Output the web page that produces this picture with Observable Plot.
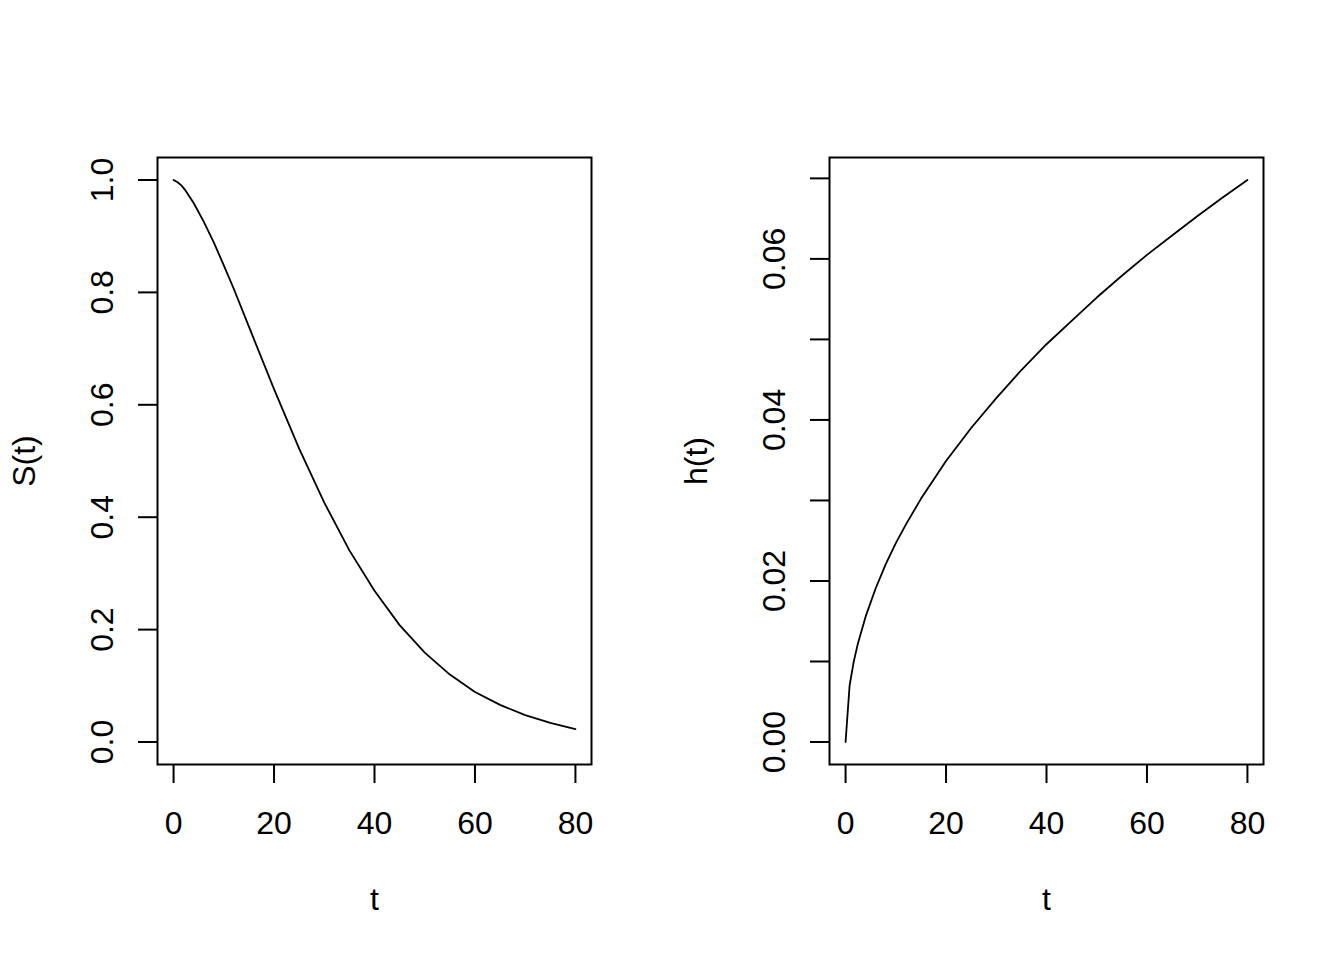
<!DOCTYPE html>
<html>
<head>
<meta charset="utf-8">
<script src="https://cdn.jsdelivr.net/npm/d3@7"></script>
<script src="https://cdn.jsdelivr.net/npm/@observablehq/plot@0.6"></script>
<style>
  html, body { margin: 0; padding: 0; background: #fff; }
  #wrap { display: flex; width: 1344px; height: 960px; }
  svg { font-family: "Liberation Sans", Arial, sans-serif; }
</style>
</head>
<body>
<div id="wrap"></div>
<script>
// time points
const tValues = [0, 0.8, 1.6, 2.4, 4, 6, 8, 10, 12, 15, 20, 25, 30, 35, 40, 45, 50, 55, 60, 65, 70, 75, 80];
// survival S(t)
const sValues = [1.000, 0.996, 0.990, 0.981, 0.959, 0.926, 0.889, 0.848, 0.806, 0.739, 0.628, 0.522, 0.426, 0.341, 0.269, 0.208, 0.159, 0.120, 0.089, 0.066, 0.048, 0.034, 0.023];
// hazard h(t)
const hValues = [0.0000, 0.0070, 0.0099, 0.0121, 0.0156, 0.0191, 0.0221, 0.0247, 0.0270, 0.0302, 0.0349, 0.0390, 0.0427, 0.0462, 0.0494, 0.0523, 0.0552, 0.0579, 0.0605, 0.0629, 0.0653, 0.0676, 0.0698];

const xTicks = [0, 20, 40, 60, 80];
const sLimits = [0, 1];
const sTicks = [0, 0.2, 0.4, 0.6, 0.8, 1.0];
const sTickLabels = ["0.0", "0.2", "0.4", "0.6", "0.8", "1.0"];
const hTicks = [0, 0.01, 0.02, 0.03, 0.04, 0.05, 0.06, 0.07];
const hTickLabels = ["0.00", "", "0.02", "", "0.04", "", "0.06", ""];

function expand(ext) {
  const r = ext[1] - ext[0];
  return [ext[0] - 0.04 * r, ext[1] + 0.04 * r];
}

function panel(values, yLimits, yTicks, yLabels, yLabel) {
  const data = tValues.map((t, i) => ({t, v: values[i]}));
  const fmt = new Map(yTicks.map((v, i) => [v, yLabels[i]]));
  return Plot.plot({
    width: 672,
    height: 960,
    marginLeft: 157,
    marginRight: 81,
    marginTop: 157,
    marginBottom: 196,
    style: {fontFamily: "Liberation Sans, Arial, sans-serif", fontSize: "32px", color: "black", background: "white"},
    x: {domain: expand(d3.extent(tValues))},
    y: {domain: expand(yLimits)},
    marks: [
      Plot.axisX({
        ticks: xTicks,
        tickSize: 19,
        tickPadding: 28,
        strokeWidth: 2,
        fontSize: 32,
        label: "t",
        labelAnchor: "center",
        labelArrow: "none",
        labelOffset: 145
      }),
      Plot.axisY({
        ticks: yTicks,
        tickFormat: d => fmt.get(d) ?? "",
        tickSize: 19,
        tickPadding: 26,
        tickRotate: -90,
        strokeWidth: 2,
        fontSize: 32,
        label: yLabel,
        labelAnchor: "center",
        labelArrow: "none",
        labelOffset: 145
      }),
      Plot.frame({stroke: "black", strokeWidth: 2}),
      Plot.line(data, {x: "t", y: "v", stroke: "black", strokeWidth: 1.8, curve: "linear"})
    ]
  });
}

const wrap = document.getElementById("wrap");
wrap.appendChild(panel(sValues, sLimits, sTicks, sTickLabels, "S(t)"));
wrap.appendChild(panel(hValues, d3.extent(hValues), hTicks, hTickLabels, "h(t)"));
</script>
</body>
</html>
